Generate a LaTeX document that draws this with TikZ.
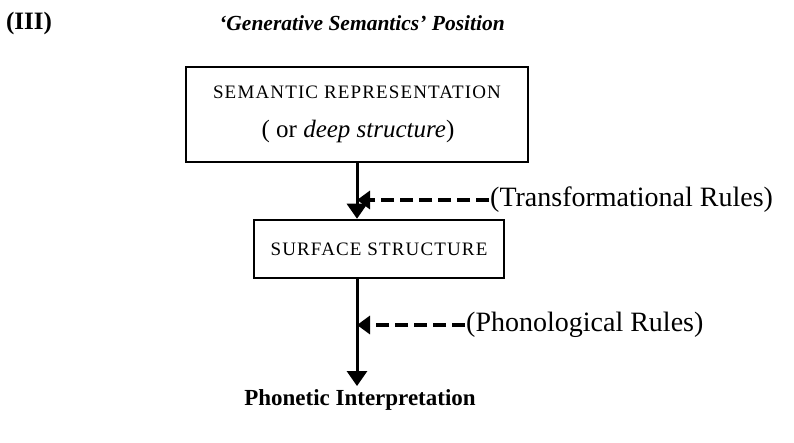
\documentclass[tikz,border=0pt]{standalone}
\usepackage{fontspec}
\setmainfont{Liberation Serif}
\usepackage{tikz}
\usetikzlibrary{arrows.meta, positioning, calc}

\tikzset{
    levelbox/.style={draw, line width=2.5pt, inner sep=0pt},
    capstext/.style={font=\fontsize{19}{22}\selectfont\addfontfeature{LetterSpace=6}},
    flowarrow/.style={line width=3pt, -{Triangle[width=20pt,length=15pt]}},
    rulearrow/.style={line width=3.5pt, dash pattern=on 13pt off 6pt, -{Triangle[width=18pt,length=13pt]}},
    rulelabel/.style={anchor=west, inner sep=1pt, font=\fontsize{28}{31}\selectfont}
}

\begin{document}
\begin{tikzpicture}[x=1pt, y=-1pt]
        \useasboundingbox (0,0) rectangle (794,443);
        % headings
        \node[font=\fontsize{25}{28}\selectfont\bfseries] (num) at (29,23) {(III)};
        \node[font=\fontsize{21.5}{25}\selectfont\bfseries\itshape] (title) at (362,23) {`Generative Semantics' Position};
        % boxes
        \node[levelbox, minimum width=342pt, minimum height=95pt] (semrep) at (357,114.5) {};
        \node[capstext] (semtext) at (357,92) {SEMANTIC REPRESENTATION};
        \node[font=\fontsize{25}{28}\selectfont] (deep) at (358,131) {( or \textit{deep structure})};
        \node[levelbox, minimum width=250pt, minimum height=58pt, capstext] (surf) at (379,249) {SURFACE STRUCTURE};
        \node[font=\fontsize{23}{26}\selectfont\bfseries] (phon) at (360,400) {Phonetic Interpretation};
        % rule labels
        \node[rulelabel] (trans) at (489,200) {(Transformational Rules)};
        \node[rulelabel] (phonrules) at (465,325) {(Phonological Rules)};
        % arrows
        \draw[flowarrow] (semrep.south) -- (semrep.south |- surf.north);
        \draw[flowarrow] (semrep.south |- surf.south) -- (semrep.south |- phon.north);
        \draw[rulearrow] (trans.west) -- (trans.west -| semrep.south);
        \draw[rulearrow] (phonrules.west) -- (phonrules.west -| semrep.south);
    \end{tikzpicture}
\end{document}
